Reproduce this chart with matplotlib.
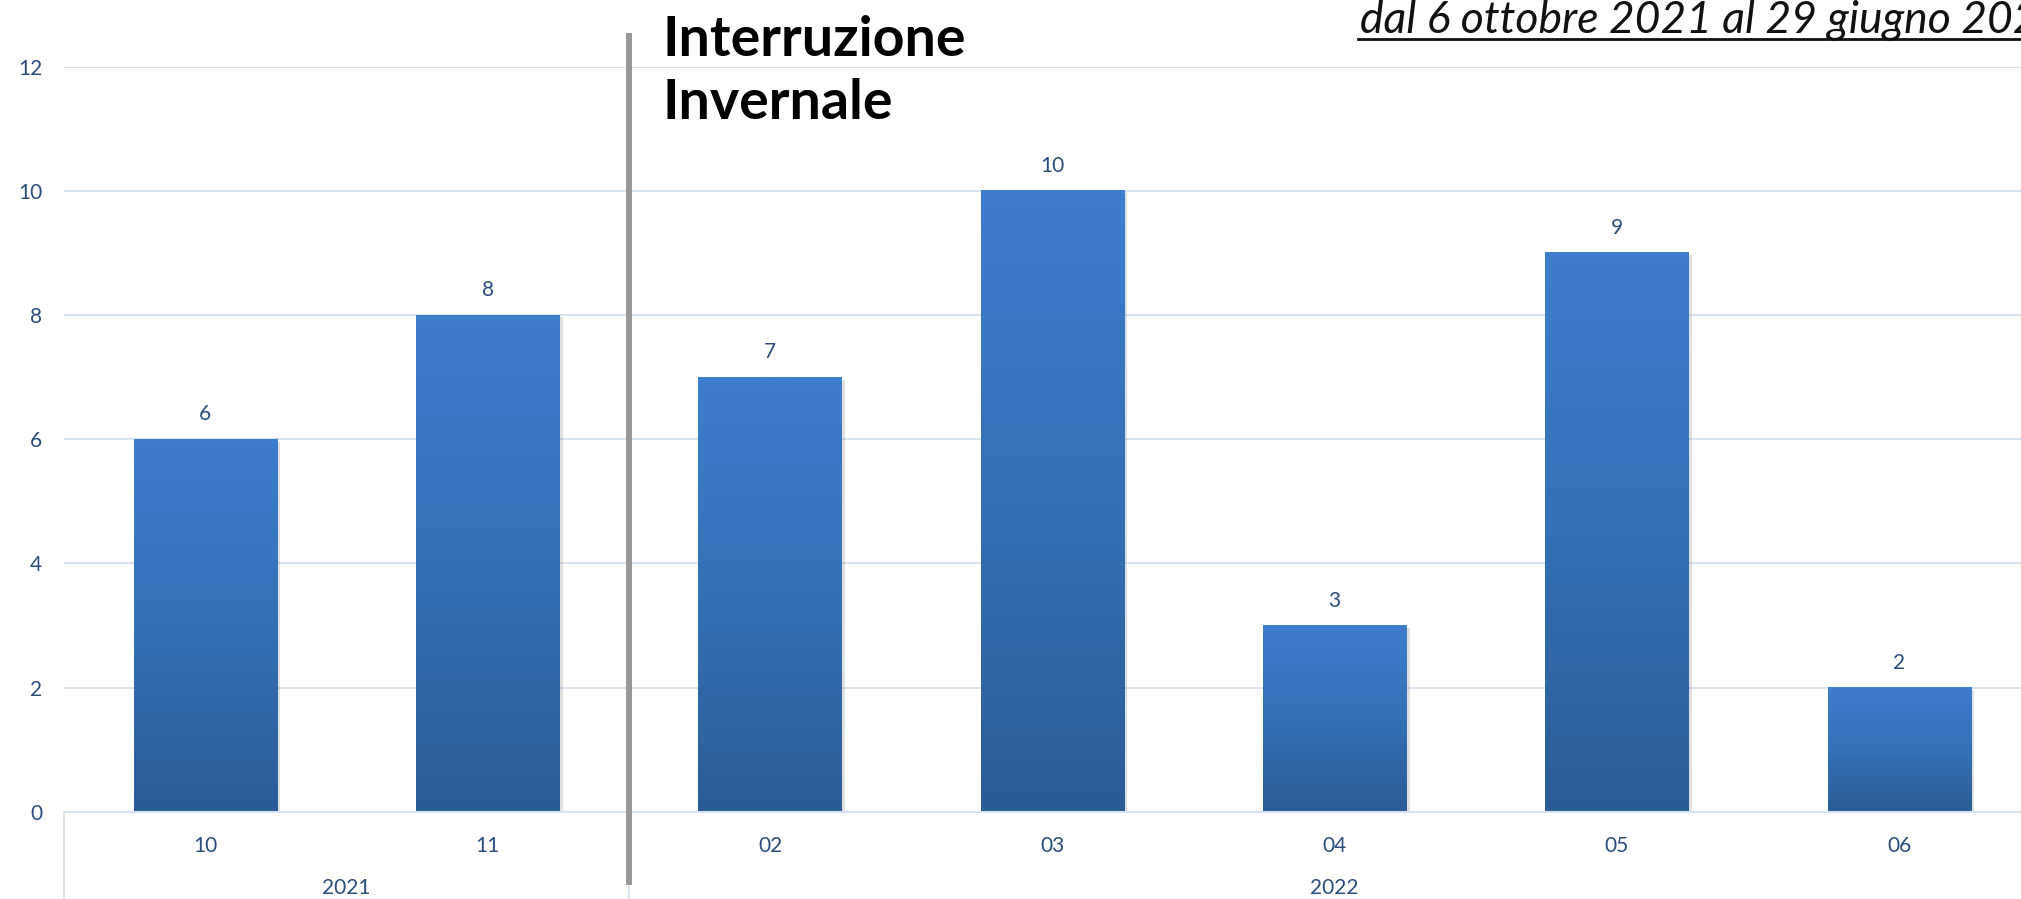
import numpy as np
import matplotlib
matplotlib.use("Agg")
import matplotlib.pyplot as plt
from matplotlib.colors import LinearSegmentedColormap
import matplotlib.transforms as mtransforms

plt.rcParams['font.family'] = ['Lato', 'DejaVu Sans']

# ---- data ----
months = ["10", "11", "02", "03", "04", "05", "06"]
years = ["2021", "2022"]
year_groups = [(0, 1), (2, 6)]
values = [6, 8, 7, 10, 3, 9, 2]
yticks = [0, 2, 4, 6, 8, 10, 12]
title_lines = ["Interruzione", "Invernale"]
subtitle = "dal 6 ottobre 2021 al 29 giugno 2022"

# ---- style ----
grid_col = "#D5E2F2"
text_col = "#2A4D7F"
top_col = "#3D7ECD"
bot_col = "#2C5C96"
cmap = LinearSegmentedColormap.from_list("bar", [bot_col, "#3470B6", top_col])

fig = plt.figure(figsize=(20.21, 8.99), dpi=100)
ax = fig.add_axes([0.0318, 0.0968, 0.9778, 0.8292])

x = np.arange(len(months))
w = 0.507
grad = np.linspace(0, 1, 256).reshape(-1, 1)

# shadows
for xi, v in zip(x, values):
    ax.bar(xi + 0.012, v, width=w, bottom=-0.04, color="#000000", alpha=0.12,
           zorder=2, linewidth=0)
# gradient bars
for xi, v in zip(x, values):
    ax.imshow(grad, cmap=cmap, origin="lower", aspect="auto",
              extent=(xi - w / 2, xi + w / 2, 0, v), zorder=3)
    ax.annotate(str(v), (xi, v), xytext=(0, 18), textcoords="offset points",
                ha="center", va="center", fontsize=15, color=text_col, zorder=5)

ax.set_xlim(-0.5, len(months) - 0.5)
ax.set_ylim(0, 12)
ax.set_yticks(yticks)
ax.set_yticklabels([str(t) for t in yticks], fontsize=15, color=text_col)
ax.set_xticks(x)
ax.set_xticklabels(months, fontsize=15, color=text_col)
ax.tick_params(axis="both", length=0)
ax.tick_params(axis="y", pad=16)
ax.tick_params(axis="x", pad=17)

ax.grid(axis="y", color=grid_col, linewidth=1.3, zorder=0)
ax.set_axisbelow(True)
for s in ["top", "right", "left"]:
    ax.spines[s].set_visible(False)
ax.spines["bottom"].set_color(grid_col)
ax.spines["bottom"].set_linewidth(1.5)
ax.spines["bottom"].set_zorder(4)

trans = mtransforms.blended_transform_factory(ax.transData, ax.transAxes)
# group separators and year labels
seps = [-0.5] + [g[1] + 0.5 for g in year_groups]
for s in seps:
    ax.plot([s, s], [0, -0.15], transform=trans, color=grid_col, lw=1.3,
            clip_on=False, zorder=1)
for yr, (a, b) in zip(years, year_groups):
    ax.text((a + b) / 2, -0.102, yr, transform=trans, ha="center", va="center",
            fontsize=15, color=text_col)

# winter break divider
brk = year_groups[0][1] + 0.5
ax.plot([brk, brk], [-0.098, 1.0456], transform=trans, color="#999999", lw=4.3,
        clip_on=False, zorder=6, solid_capstyle="butt")
for line, yb in zip(title_lines, [1.0147, 0.930]):
    ax.text(brk + 0.12, yb, line, transform=trans, ha="left", va="baseline",
            fontsize=40, fontweight="bold", color="black", zorder=7)

# subtitle
fig.text(1360 / 2021, 1 - 33 / 899, subtitle, ha="left", va="baseline",
         fontsize=32, style="italic", color="#111111")
fig.add_artist(plt.Line2D([1358 / 2021, 1.0], [1 - 39 / 899, 1 - 39 / 899],
                          color="#111111", lw=2.0))

fig.savefig("out.png", dpi=100)
